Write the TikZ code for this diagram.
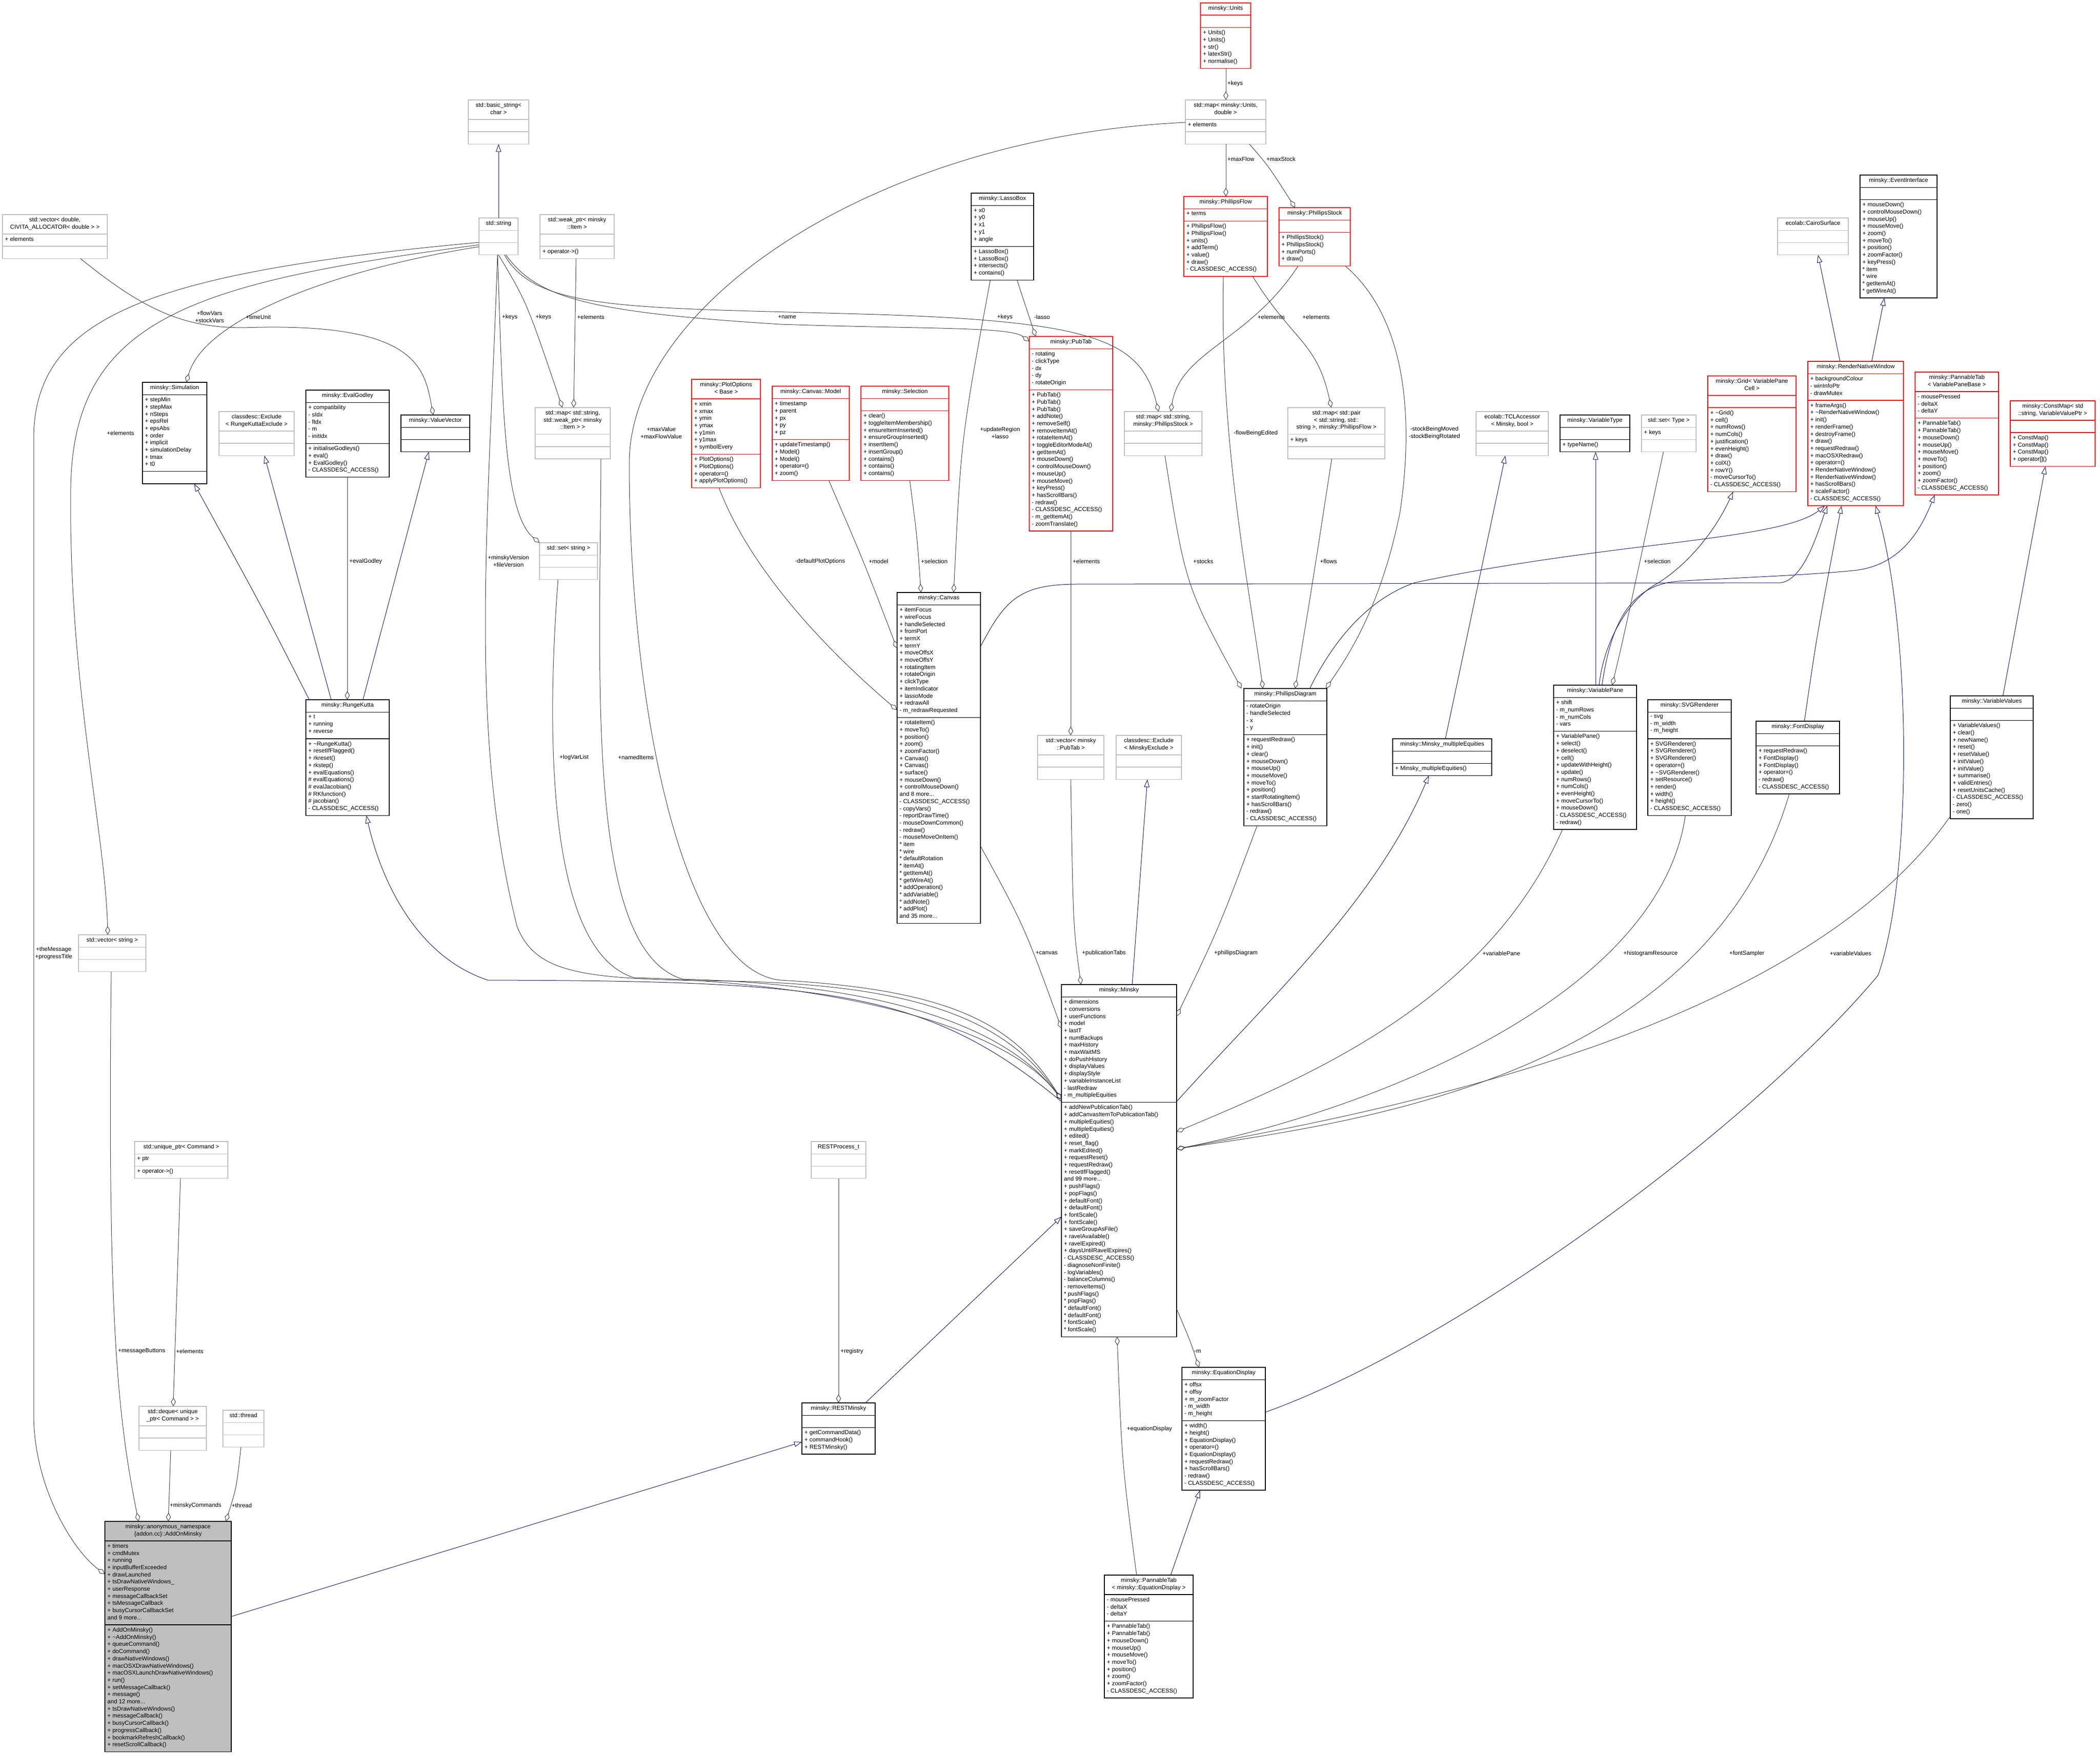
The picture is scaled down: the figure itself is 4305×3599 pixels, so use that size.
\documentclass[tikz,border=0pt]{standalone}
\usepackage{fontspec}
\setmainfont{Liberation Sans}
\usetikzlibrary{arrows.meta,calc}
\definecolor{gb}{HTML}{BFBFBF}
\definecolor{nv}{HTML}{191970}
\definecolor{eg}{HTML}{404040}
\definecolor{rb}{HTML}{FF0000}
\def\splitcounts#1/#2/#3\relax{\def\ca{#1}\def\cb{#2}\def\cc{#3}}
\newcommand\cls[9]{%
  \splitcounts#6\relax
  \pgfmathsetmacro\ha{max(\ca,1)*14.7+10.5}%
  \pgfmathsetmacro\hb{max(\cb,1)*14.7+10.5}%
  \pgfmathsetmacro\hc{max(\cc,1)*14.7+10.5}%
  \pgfmathsetmacro\htot{\ha+\hb+\hc}%
  \node[#5,anchor=north west,minimum width=#4pt,minimum height=\htot pt,inner sep=0pt,outer sep=0pt] (#1) at (#2,#3) {};
  \draw[#5,fill=none] (#2,#3+\ha) -- ++(#4,0) (#2,#3+\ha+\hb) -- ++(#4,0);
  \node[txt,anchor=north,align=center] (#1t) at (#2+#4/2,#3+5.5) {#7};
  \node[txt,anchor=north west,align=left] (#1a) at (#2+5,#3+\ha+5.5) {#8};
  \node[txt,anchor=north west,align=left] (#1m) at (#2+5,#3+\ha+\hb+5.5) {#9};
}
\tikzset{
  txt/.style={inner sep=0pt,font=\fontsize{12}{14.7}\selectfont},
  bk/.style={draw=black,line width=1.4pt},
  rd/.style={draw=rb,line width=1.4pt},
  gr/.style={draw=gb,line width=1.4pt},
  ad/.style={draw=black,fill=gb,line width=1.4pt},
  inh/.style={draw=nv,line width=1pt,-{Triangle[open,length=16pt,width=11pt]}},
  agg/.style={draw=eg,line width=1pt,-{Diamond[open,length=18pt,width=10pt]}},
  lbl/.style={txt,anchor=west,align=center}
}
\def\tl{\textasciitilde}
\begin{document}
\begin{tikzpicture}[x=1pt,y=-1pt]
\useasboundingbox (0,0) rectangle (4305,3599);
% classes
\cls{bstr}{960}{205}{124}{gr}{2/0/0}{std::basic\_string<\\ char >}{}{}
\cls{str}{982}{447}{80}{gr}{1/0/0}{std::string}{}{}
\cls{wptr}{1107}{440}{152}{gr}{2/0/1}{std::weak\_ptr< minsky\\::Item >}{}{+ operator->()}
\cls{vecd}{5}{440}{215}{gr}{2/1/0}{std::vector< double,\\ CIVITA\_ALLOCATOR< double > >}{+ elements}{}
\cls{sim}{292}{784}{132}{bk}{1/10/0}{minsky::Simulation}{+ stepMin\\+ stepMax\\+ nSteps\\+ epsRel\\+ epsAbs\\+ order\\+ implicit\\+ simulationDelay\\+ tmax\\+ t0}{}
\cls{exrk}{449}{844}{154}{gr}{2/0/0}{classdesc::Exclude\\< RungeKuttaExclude >}{}{}
\cls{evg}{627}{800}{171}{bk}{1/5/4}{minsky::EvalGodley}{+ compatibility\\- sIdx\\- fIdx\\- m\\- initIdx}{+ initialiseGodleys()\\+ eval()\\+ EvalGodley()\\- CLASSDESC\_ACCESS()}
\cls{vv}{822}{851}{141}{bk}{1/0/0}{minsky::ValueVector}{}{}
\cls{mapsw}{1097}{836}{154}{gr}{3/0/0}{std::map< std::string,\\ std::weak\_ptr< minsky\\::Item > >}{}{}
\cls{sets}{1106}{1113}{119}{gr}{1/0/0}{std::set< string >}{}{}
\cls{units}{2461}{6}{103}{rd}{1/0/5}{minsky::Units}{}{+ Units()\\+ Units()\\+ str()\\+ latexStr()\\+ normalise()}
\cls{mapud}{2430}{205}{165}{gr}{2/1/0}{std::map< minsky::Units,\\ double >}{+ elements}{}
\cls{lasso}{1991}{396}{128}{bk}{1/5/4}{minsky::LassoBox}{+ x0\\+ y0\\+ x1\\+ y1\\+ angle}{+ LassoBox()\\+ LassoBox()\\+ intersects()\\+ contains()}
\cls{pflow}{2427}{403}{171}{rd}{1/1/7}{minsky::PhillipsFlow}{+ terms}{+ PhillipsFlow()\\+ PhillipsFlow()\\+ units()\\+ addTerm()\\+ value()\\+ draw()\\- CLASSDESC\_ACCESS()}
\cls{pstock}{2622}{426}{146}{rd}{1/0/4}{minsky::PhillipsStock}{}{+ PhillipsStock()\\+ PhillipsStock()\\+ numPorts()\\+ draw()}
\cls{pubtab}{2110}{690}{171}{rd}{1/5/19}{minsky::PubTab}{- rotating\\- clickType\\- dx\\- dy\\- rotateOrigin}{+ PubTab()\\+ PubTab()\\+ PubTab()\\+ addNote()\\+ removeSelf()\\+ removeItemAt()\\+ rotateItemAt()\\+ toggleEditorModeAt()\\+ getItemAt()\\+ mouseDown()\\+ controlMouseDown()\\+ mouseUp()\\+ mouseMove()\\+ keyPress()\\+ hasScrollBars()\\- redraw()\\- CLASSDESC\_ACCESS()\\- m\_getItemAt()\\- zoomTranslate()}
\cls{plotopt}{1418}{778}{141}{rd}{2/7/4}{minsky::PlotOptions\\< Base >}{+ xmin\\+ xmax\\+ ymin\\+ ymax\\+ y1min\\+ y1max\\+ symbolEvery}{+ PlotOptions()\\+ PlotOptions()\\+ operator=()\\+ applyPlotOptions()}
\cls{model}{1583}{792}{158}{rd}{1/5/5}{minsky::Canvas::Model}{+ timestamp\\+ parent\\+ px\\+ py\\+ pz}{+ updateTimestamp()\\+ Model()\\+ Model()\\+ operator=()\\+ zoom()}
\cls{sel}{1765}{792}{180}{rd}{1/0/9}{minsky::Selection}{}{+ clear()\\+ toggleItemMembership()\\+ ensureItemInserted()\\+ ensureGroupInserted()\\+ insertItem()\\+ insertGroup()\\+ contains()\\+ contains()\\+ contains()}
\cls{mapsps}{2305}{844}{159}{gr}{2/0/0}{std::map< std::string,\\ minsky::PhillipsStock >}{}{}
\cls{mappair}{2640}{836}{199}{gr}{3/1/0}{std::map< std::pair\\< std::string, std::\\string >, minsky::PhillipsFlow >}{+ keys}{}
\cls{evi}{3813}{359}{158}{bk}{1/0/13}{minsky::EventInterface}{}{+ mouseDown()\\+ controlMouseDown()\\+ mouseUp()\\+ mouseMove()\\+ zoom()\\+ moveTo()\\+ position()\\+ zoomFactor()\\+ keyPress()\\* item\\* wire\\* getItemAt()\\* getWireAt()}
\cls{cairo}{3644}{447}{145}{gr}{1/0/0}{ecolab::CairoSurface}{}{}
\cls{rnw}{3706}{741}{196}{rd}{1/3/14}{minsky::RenderNativeWindow}{+ backgroundColour\\- winInfoPtr\\- drawMutex}{+ frameArgs()\\+ \tl RenderNativeWindow()\\+ init()\\+ renderFrame()\\+ destroyFrame()\\+ draw()\\+ requestRedraw()\\+ macOSXRedraw()\\+ operator=()\\+ RenderNativeWindow()\\+ RenderNativeWindow()\\+ hasScrollBars()\\+ scaleFactor()\\- CLASSDESC\_ACCESS()}
\cls{ptvpb}{3926}{763}{171}{rd}{2/3/10}{minsky::PannableTab\\< VariablePaneBase >}{- mousePressed\\- deltaX\\- deltaY}{+ PannableTab()\\+ PannableTab()\\+ mouseDown()\\+ mouseUp()\\+ mouseMove()\\+ moveTo()\\+ position()\\+ zoom()\\+ zoomFactor()\\- CLASSDESC\_ACCESS()}
\cls{cmap}{4121}{822}{174}{rd}{2/0/4}{minsky::ConstMap< std\\::string, VariableValuePtr >}{}{+ ConstMap()\\+ ConstMap()\\+ ConstMap()\\+ operator[]()}
\cls{grid}{3501}{771}{181}{rd}{2/0/11}{minsky::Grid< VariablePane\\Cell >}{}{+ \tl Grid()\\+ cell()\\+ numRows()\\+ numCols()\\+ justification()\\+ evenHeight()\\+ draw()\\+ colX()\\+ rowY()\\- moveCursorTo()\\- CLASSDESC\_ACCESS()}
\cls{tcl}{3026}{844}{148}{gr}{2/0/0}{ecolab::TCLAccessor\\< Minsky, bool >}{}{}
\cls{vtype}{3198}{851}{143}{bk}{1/0/1}{minsky::VariableType}{}{+ typeName()}
\cls{sett}{3365}{851}{112}{gr}{1/1/0}{std::set< Type >}{+ keys}{}
\cls{rk}{627}{1435}{171}{bk}{1/3/10}{minsky::RungeKutta}{+ t\\+ running\\+ reverse}{+ \tl RungeKutta()\\+ resetIfFlagged()\\+ rkreset()\\+ rkstep()\\+ evalEquations()\\\# evalEquations()\\\# evalJacobian()\\\# RKfunction()\\\# jacobian()\\- CLASSDESC\_ACCESS()}
\cls{vecs}{161}{1917}{138}{gr}{1/0/0}{std::vector< string >}{}{}
\cls{canvas}{1839}{1215}{171}{bk}{1/15/28}{minsky::Canvas}{+ itemFocus\\+ wireFocus\\+ handleSelected\\+ fromPort\\+ termX\\+ termY\\+ moveOffsX\\+ moveOffsY\\+ rotatingItem\\+ rotateOrigin\\+ clickType\\+ itemIndicator\\+ lassoMode\\+ redrawAll\\- m\_redrawRequested}{+ rotateItem()\\+ moveTo()\\+ position()\\+ zoom()\\+ zoomFactor()\\+ Canvas()\\+ Canvas()\\+ surface()\\+ mouseDown()\\+ controlMouseDown()\\and 8 more...\\- CLASSDESC\_ACCESS()\\- copyVars()\\- reportDrawTime()\\- mouseDownCommon()\\- redraw()\\- mouseMoveOnItem()\\* item\\* wire\\* defaultRotation\\* itemAt()\\* getItemAt()\\* getWireAt()\\* addOperation()\\* addVariable()\\* addNote()\\* addPlot()\\and 35 more...}
\cls{vecpt}{2127}{1508}{136}{gr}{2/0/0}{std::vector< minsky\\::PubTab >}{}{}
\cls{exm}{2288}{1508}{134}{gr}{2/0/0}{classdesc::Exclude\\< MinskyExclude >}{}{}
\cls{pdiag}{2550}{1412}{170}{bk}{1/4/12}{minsky::PhillipsDiagram}{- rotateOrigin\\- handleSelected\\- x\\- y}{+ requestRedraw()\\+ init()\\+ clear()\\+ mouseDown()\\+ mouseUp()\\+ mouseMove()\\+ moveTo()\\+ position()\\+ startRotatingItem()\\+ hasScrollBars()\\- redraw()\\- CLASSDESC\_ACCESS()}
\cls{minsky}{2176}{2019}{236}{bk}{1/14/32}{minsky::Minsky}{+ dimensions\\+ conversions\\+ userFunctions\\+ model\\+ lastT\\+ numBackups\\+ maxHistory\\+ maxWaitMS\\+ doPushHistory\\+ displayValues\\+ displayStyle\\+ variableInstanceList\\- lastRedraw\\- m\_multipleEquities}{+ addNewPublicationTab()\\+ addCanvasItemToPublicationTab()\\+ multipleEquities()\\+ multipleEquities()\\+ edited()\\+ reset\_flag()\\+ markEdited()\\+ requestReset()\\+ requestRedraw()\\+ resetIfFlagged()\\and 99 more...\\+ pushFlags()\\+ popFlags()\\+ defaultFont()\\+ defaultFont()\\+ fontScale()\\+ fontScale()\\+ saveGroupAsFile()\\+ ravelAvailable()\\+ ravelExpired()\\+ daysUntilRavelExpires()\\- CLASSDESC\_ACCESS()\\- diagnoseNonFinite()\\- logVariables()\\- balanceColumns()\\- removeItems()\\* pushFlags()\\* popFlags()\\* defaultFont()\\* defaultFont()\\* fontScale()\\* fontScale()}
\cls{mme}{2855}{1515}{203}{bk}{1/0/1}{minsky::Minsky\_multipleEquities}{}{+ Minsky\_multipleEquities()}
\cls{vpane}{3185}{1405}{170}{bk}{1/4/13}{minsky::VariablePane}{+ shift\\- m\_numRows\\- m\_numCols\\- vars}{+ VariablePane()\\+ select()\\+ deselect()\\+ cell()\\+ updateWithHeight()\\+ update()\\+ numRows()\\+ numCols()\\+ evenHeight()\\+ moveCursorTo()\\+ mouseDown()\\- CLASSDESC\_ACCESS()\\- redraw()}
\cls{svg}{3378}{1435}{171}{bk}{1/3/10}{minsky::SVGRenderer}{- svg\\- m\_width\\- m\_height}{+ SVGRenderer()\\+ SVGRenderer()\\+ SVGRenderer()\\+ operator=()\\+ \tl SVGRenderer()\\+ setResource()\\+ render()\\+ width()\\+ height()\\- CLASSDESC\_ACCESS()}
\cls{fontd}{3600}{1479}{171}{bk}{1/0/6}{minsky::FontDisplay}{}{+ requestRedraw()\\+ FontDisplay()\\+ FontDisplay()\\+ operator=()\\- redraw()\\- CLASSDESC\_ACCESS()}
\cls{vvals}{3998}{1427}{170}{bk}{1/0/13}{minsky::VariableValues}{}{+ VariableValues()\\+ clear()\\+ newName()\\+ reset()\\+ resetValue()\\+ initValue()\\+ initValue()\\+ summarise()\\+ validEntries()\\+ resetUnitsCache()\\- CLASSDESC\_ACCESS()\\- zero()\\- one()}
\cls{restp}{1663}{2341}{112}{gr}{1/0/0}{RESTProcess\_t}{}{}
\cls{rest}{1644}{2877}{150}{bk}{1/0/3}{minsky::RESTMinsky}{}{+ getCommandData()\\+ commandHook()\\+ RESTMinsky()}
\cls{eqd}{2423}{2804}{171}{bk}{1/5/9}{minsky::EquationDisplay}{+ offsx\\+ offsy\\+ m\_zoomFactor\\- m\_width\\- m\_height}{+ width()\\+ height()\\+ EquationDisplay()\\+ operator=()\\+ EquationDisplay()\\+ requestRedraw()\\+ hasScrollBars()\\- redraw()\\- CLASSDESC\_ACCESS()}
\cls{pteq}{2264}{3230}{182}{bk}{2/3/10}{minsky::PannableTab\\< minsky::EquationDisplay >}{- mousePressed\\- deltaX\\- deltaY}{+ PannableTab()\\+ PannableTab()\\+ mouseDown()\\+ mouseUp()\\+ mouseMove()\\+ moveTo()\\+ position()\\+ zoom()\\+ zoomFactor()\\- CLASSDESC\_ACCESS()}
\cls{uptr}{276}{2341}{191}{gr}{1/1/1}{std::unique\_ptr< Command >}{+ ptr}{+ operator->()}
\cls{deque}{285}{2884}{138}{gr}{2/0/0}{std::deque< unique\\\_ptr< Command > >}{}{}
\cls{thread}{457}{2892}{84}{gr}{1/0/0}{std::thread}{}{}
\cls{addon}{215}{3120}{259}{ad}{2/11/17}{minsky::anonymous\_namespace\\\{addon.cc\}::AddOnMinsky}{+ timers\\+ cmdMutex\\+ running\\+ inputBufferExceeded\\+ drawLaunched\\+ tsDrawNativeWindows\_\\+ userResponse\\+ messageCallbackSet\\+ tsMessageCallback\\+ busyCursorCallbackSet\\and 9 more...}{+ AddOnMinsky()\\+ \tl AddOnMinsky()\\+ queueCommand()\\+ doCommand()\\+ drawNativeWindows()\\+ macOSXDrawNativeWindows()\\+ macOSXLaunchDrawNativeWindows()\\+ run()\\+ setMessageCallback()\\+ message()\\and 12 more...\\+ tsDrawNativeWindows()\\+ messageCallback()\\+ busyCursorCallback()\\+ progressCallback()\\+ bookmarkRefreshCallback()\\+ resetScrollCallback()}
% inheritance
\draw[inh] (str.north) -- (bstr.south);
\draw[inh] ($(rk.north west)+(7,0)$) .. controls (540,1250) .. ($(sim.south west)+(106,0)$);
\draw[inh] ($(rk.north west)+(52,0)$) -- ($(exrk.south west)+(93,0)$);
\draw[inh] ($(rk.north west)+(117,0)$) -- ($(vv.south west)+(57,0)$);
\draw[inh] ($(minsky.north west)+(0,240)$) .. controls (1900,2030) and (1700,2012) .. (1000,2010) .. controls (850,1960) and (780,1800) .. ($(rk.south west)+(124,0)$);
\draw[inh] ($(minsky.north west)+(145,0)$) -- ($(exm.south west)+(64,0)$);
\draw[inh] ($(minsky.north east)+(0,240)$) .. controls (2600,2050) and (2820,1850) .. ($(mme.south west)+(74,0)$);
\draw[inh] ($(mme.north west)+(108,0)$) -- ($(tcl.south west)+(60,0)$);
\draw[inh] ($(canvas.north east)+(0,111)$) .. controls (2060,1230) and (2090,1200) .. (2200,1198) -- (3650,1195) .. controls (3700,1190) and (3730,1080) .. ($(rnw.south west)+(40,0)$);
\draw[inh] ($(pdiag.north west)+(135,0)$) .. controls (2730,1320) and (2800,1230) .. (2900,1195) .. controls (3300,1110) and (3650,1110) .. ($(rnw.south west)+(35,0)$);
\draw[inh] ($(vpane.north west)+(93,0)$) .. controls (3290,1300) and (3350,1220) .. (3400,1195) .. controls (3470,1150) and (3520,1080) .. ($(grid.south west)+(52,0)$);
\draw[inh] ($(vpane.north west)+(99,0)$) .. controls (3300,1300) and (3330,1200) .. (3440,1192) .. controls (3550,1185) and (3700,1180) .. (3800,1170) .. controls (3900,1160) and (3940,1080) .. ($(ptvpb.south west)+(40,0)$);
\draw[inh] ($(vpane.north west)+(86,0)$) -- ($(vtype.south west)+(73,0)$);
\draw[inh] ($(fontd.north west)+(99,0)$) .. controls (3725,1300) .. ($(rnw.south west)+(69,0)$);
\draw[inh] ($(eqd.north east)+(0,92)$) .. controls (3000,2750) and (3600,2300) .. (3850,2000) .. controls (3920,1800) and (3920,1300) .. ($(rnw.south west)+(139,0)$);
\draw[inh] ($(vvals.north west)+(108,0)$) -- ($(cmap.south west)+(72,0)$);
\draw[inh] ($(rnw.north west)+(66,0)$) -- ($(cairo.south west)+(83,0)$);
\draw[inh] ($(rnw.north west)+(131,0)$) -- ($(evi.south west)+(50,0)$);
\draw[inh] ($(rest.north west)+(130,0)$) -- ($(minsky.north west)+(0,476)$);
\draw[inh] ($(addon.north east)+(0,195)$) -- ($(rest.north west)+(0,80)$);
\draw[inh] ($(pteq.north west)+(136,0)$) -- ($(eqd.south west)+(37,0)$);
% aggregation
\draw[agg] ($(units.south west)+(52,0)$) -- ($(mapud.north west)+(83,0)$);
\draw[agg] ($(mapud.south west)+(83,0)$) -- ($(pflow.north west)+(86,0)$);
\draw[agg] ($(mapud.south west)+(131,0)$) .. controls (2600,340) .. ($(pstock.north west)+(33,0)$);
\draw[agg] ($(mapud.north west)+(0,46)$) .. controls (1800,280) and (1290,620) .. (1290,950) .. controls (1290,1450) and (1400,1990) .. (1600,2010) .. controls (1950,2030) and (2080,2100) .. ($(minsky.north west)+(0,236)$);
\draw[agg] ($(str.north west)+(0,59)$) .. controls (700,550) and (420,650) .. ($(sim.north west)+(90,0)$);
\draw[agg] ($(str.south west)+(55,0)$) .. controls (1100,610) and (1200,640) .. (1600,665) .. controls (1900,675) and (2070,670) .. ($(pubtab.north west)+(0,10)$);
\draw[agg] ($(str.south west)+(52,0)$) .. controls (1100,640) and (1300,630) .. (1800,645) .. controls (2250,660) and (2340,700) .. ($(mapsps.north west)+(70,0)$);
\draw[agg] ($(str.south west)+(40,0)$) .. controls (1080,620) .. ($(mapsw.north west)+(56,0)$);
\draw[agg] ($(wptr.south west)+(74,0)$) -- ($(mapsw.north west)+(79,0)$);
\draw[agg] ($(str.south west)+(38,0)$) .. controls (1030,800) and (1030,1050) .. (sets.north west);
\draw[agg] ($(str.north west)+(0,55)$) .. controls (400,580) and (150,650) .. (145,1000) .. controls (140,1400) and (215,1700) .. ($(vecs.north west)+(60,0)$);
\draw[agg] ($(str.north west)+(0,50)$) .. controls (300,560) and (70,650) .. (69,900) -- (69,2900) .. controls (69,3050) and (150,3180) .. ($(addon.north west)+(0,108)$);
\draw[agg] ($(str.south west)+(38,0)$) .. controls (1000,1100) and (960,1500) .. (1060,1900) .. controls (1100,2000) and (1200,2008) .. (1500,2012) .. controls (1900,2020) and (2070,2100) .. ($(minsky.north west)+(0,236)$);
\draw[agg] ($(sets.south west)+(38,0)$) .. controls (1120,1500) and (1120,1950) .. (1300,2005) .. controls (1700,2015) and (2060,2100) .. ($(minsky.north west)+(0,236)$);
\draw[agg] ($(mapsw.south west)+(135,0)$) .. controls (1230,1400) and (1200,1950) .. (1400,2008) .. controls (1800,2018) and (2060,2100) .. ($(minsky.north west)+(0,236)$);
\draw[agg] ($(vecd.south west)+(160,0)$) .. controls (300,640) and (380,672) .. (500,672) .. controls (850,660) and (870,750) .. ($(vv.north west)+(66,0)$);
\draw[agg] ($(evg.south west)+(85,0)$) -- ($(rk.north west)+(85,0)$);
\draw[agg] ($(plotopt.south west)+(56,0)$) .. controls (1550,1200) and (1750,1380) .. ($(canvas.north west)+(0,241)$);
\draw[agg] ($(model.south west)+(116,0)$) .. controls (1770,1150) .. ($(canvas.north west)+(0,115)$);
\draw[agg] ($(sel.south west)+(100,0)$) .. controls (1880,1100) .. ($(canvas.north west)+(49,0)$);
\draw[agg] ($(lasso.south west)+(39,0)$) .. controls (1970,900) .. ($(canvas.north west)+(116,0)$);
\draw[agg] ($(lasso.south west)+(94,0)$) -- ($(pubtab.north west)+(13,0)$);
\draw[agg] ($(pubtab.south west)+(85,0)$) -- ($(vecpt.north west)+(68,0)$);
\draw[agg] ($(vecpt.south west)+(68,0)$) .. controls (2200,1900) .. ($(minsky.north west)+(40,0)$);
\draw[agg] ($(canvas.north west)+(171,520)$) .. controls (2100,1900) .. ($(minsky.north west)+(0,90)$);
\draw[agg] ($(pdiag.south west)+(27,0)$) .. controls (2500,1900) .. ($(minsky.north east)+(0,65)$);
\draw[agg] ($(mapsps.south west)+(83,0)$) .. controls (2430,1200) .. ($(pdiag.north west)+(-5,0)$);
\draw[agg] ($(pstock.south west)+(39,0)$) .. controls (2560,700) and (2420,720) .. ($(mapsps.north west)+(95,0)$);
\draw[agg] ($(pflow.south west)+(141,0)$) .. controls (2650,700) and (2700,700) .. ($(mappair.north west)+(89,0)$);
\draw[agg] ($(mappair.south west)+(90,0)$) .. controls (2690,1200) .. ($(pdiag.north west)+(105,0)$);
\draw[agg] ($(pflow.south west)+(81,0)$) .. controls (2500,900) and (2560,1200) .. ($(pdiag.north west)+(39,0)$);
\draw[agg] ($(pstock.south west)+(136,0)$) .. controls (2880,650) and (2900,850) .. (2870,1050) .. controls (2830,1250) and (2760,1350) .. ($(pdiag.north east)+(-2,0)$);
\draw[agg] ($(sett.south west)+(45,0)$) .. controls (3330,1300) .. ($(vpane.north west)+(120,0)$);
\draw[agg] ($(vpane.south west)+(18,0)$) .. controls (3050,2050) and (2700,2200) .. ($(minsky.north east)+(0,302)$);
\draw[agg] ($(svg.south west)+(77,0)$) .. controls (3400,2050) and (2800,2280) .. ($(minsky.north east)+(0,337)$);
\draw[agg] ($(fontd.south west)+(68,0)$) .. controls (3500,2200) and (2800,2300) .. ($(minsky.north east)+(0,337)$);
\draw[agg] ($(vvals.south west)+(0,-5)$) .. controls (3700,2100) and (2900,2270) .. ($(minsky.north east)+(0,337)$);
\draw[agg] ($(minsky.north east)+(0,665)$) .. controls (2440,2750) .. ($(eqd.north west)+(35,0)$);
\draw[agg] ($(pteq.north west)+(66,0)$) .. controls (2300,3000) .. ($(minsky.south west)+(114,0)$);
\draw[agg] ($(restp.south west)+(56,0)$) -- ($(rest.north west)+(75,0)$);
\draw[agg] ($(uptr.south west)+(94,0)$) -- ($(deque.north west)+(70,0)$);
\draw[agg] ($(deque.south west)+(65,0)$) -- ($(addon.north west)+(130,0)$);
\draw[agg] ($(thread.south west)+(37,0)$) .. controls (485,3050) .. ($(addon.north west)+(248,0)$);
\draw[agg] ($(vecs.south west)+(67,0)$) .. controls (220,2700) and (240,2900) .. ($(addon.north west)+(69,0)$);
% labels
\node[lbl] (l1) at (400,650) {+flowVars\\+stockVars};
\node[lbl] (l2) at (504,650) {+timeUnit};
\node[lbl] (l3) at (1029,650) {+keys};
\node[lbl] (l4) at (1098,650) {+keys};
\node[lbl] (l5) at (1183,650) {+elements};
\node[lbl] (l6) at (219,888) {+elements};
\node[lbl] (l7) at (1313,888) {+maxValue\\+maxFlowValue};
\node[lbl] (l8) at (716,1151) {+evalGodley};
\node[lbl] (l9) at (1000,1151) {+minskyVersion\\+fileVersion};
\node[lbl] (l10) at (2516,171) {+keys};
\node[lbl] (l11) at (2516,326) {+maxFlow};
\node[lbl] (l12) at (2596,326) {+maxStock};
\node[lbl] (l13) at (1595,650) {+name};
\node[lbl] (l14) at (2044,650) {+keys};
\node[lbl] (l15) at (2120,650) {-lasso};
\node[lbl] (l16) at (2578,650) {+elements};
\node[lbl] (l17) at (2670,650) {+elements};
\node[lbl] (l18) at (2009,888) {+updateRegion\\+lasso};
\node[lbl] (l19) at (2529,888) {-flowBeingEdited};
\node[lbl] (l20) at (1630,1151) {-defaultPlotOptions};
\node[lbl] (l21) at (1781,1151) {+model};
\node[lbl] (l22) at (1888,1151) {+selection};
\node[lbl] (l23) at (2199,1151) {+elements};
\node[lbl] (l24) at (2446,1151) {+stocks};
\node[lbl] (l25) at (2706,1151) {+flows};
\node[lbl] (l26) at (2888,888) {-stockBeingMoved\\-stockBeingRotated};
\node[lbl] (l27) at (3370,1151) {+selection};
\node[lbl] (l28) at (1147,1553) {+logVarList};
\node[lbl] (l29) at (1267,1553) {+namedItems};
\node[lbl] (l30) at (72,1955) {+theMessage\\+progressTitle};
\node[lbl] (l31) at (2123,1954) {+canvas};
\node[lbl] (l32) at (2218,1954) {+publicationTabs};
\node[lbl] (l33) at (2489,1954) {+phillipsDiagram};
\node[lbl] (l34) at (3039,1955) {+variablePane};
\node[lbl] (l35) at (3328,1955) {+histogramResource};
\node[lbl] (l36) at (3545,1955) {+fontSampler};
\node[lbl] (l37) at (3751,1955) {+variableValues};
\node[lbl] (l38) at (1723,2771) {+registry};
\node[lbl] (l39) at (2448,2771) {-m};
\node[lbl] (l40) at (2310,2930) {+equationDisplay};
\node[lbl] (l41) at (242,2771) {+messageButtons};
\node[lbl] (l42) at (361,2771) {+elements};
\node[lbl] (l43) at (348,3087) {+minskyCommands};
\node[lbl] (l44) at (475,3087) {+thread};
\end{tikzpicture}
\end{document}
